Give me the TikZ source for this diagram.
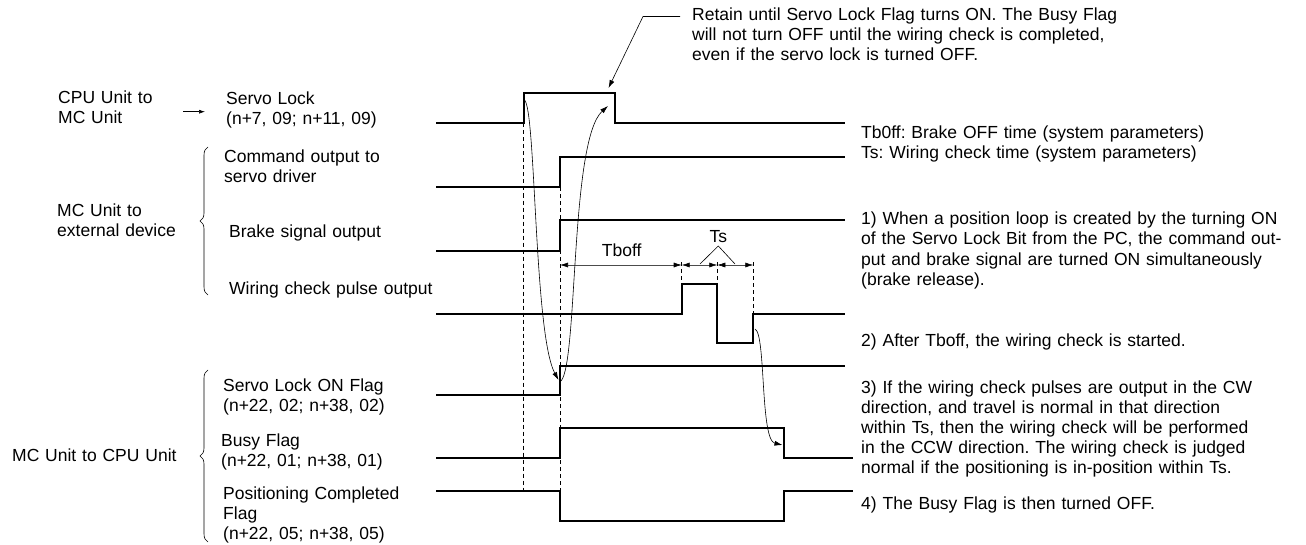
\documentclass[tikz,border=0pt]{standalone}
\usepackage{fontspec}
\setmainfont{Liberation Sans}
\usetikzlibrary{arrows.meta,decorations.pathreplacing}
\frenchspacing
\begin{document}
\begin{tikzpicture}[x=1bp,y=-1bp,
  every node/.style={font=\fontsize{17.5bp}{20bp}\selectfont\frenchspacing, inner sep=0pt},
  lbl/.style={anchor=base west, text width=520bp, align=left},
  wave/.style={line width=2bp, line join=miter},
  dsh/.style={line width=0.7bp, dash pattern=on 4bp off 3bp},
  thinl/.style={line width=0.6bp},
  tip/.style={-{Latex[length=8bp,width=5bp]}},
  dim/.style={line width=0.6bp, black!70, {Latex[length=8bp,width=5bp,black]}-{Latex[length=8bp,width=5bp,black]}},
  brc/.style={decorate, decoration={brace, amplitude=8bp}, line width=0.6bp}
]
\useasboundingbox[fill=white] (0,0) rectangle (1306,545);

% left labels
\node[lbl] (cpu) at (58,104) {CPU Unit to\\MC Unit};
\node[lbl] (sl) at (226,105) {Servo Lock\\(n+7, 09; n+11, 09)};
\coordinate (arA) at (183,111.7);
\coordinate (arB) at (205,111.7);
\draw[thinl, -{Latex[length=6bp,width=4bp]}] (arA) -- (arB);
\node[lbl] (cmd) at (224,163) {Command output to\\servo driver};
\node[lbl] (mcx) at (57,217) {MC Unit to\\external device};
\node[lbl] (brk) at (229,238) {Brake signal output};
\node[lbl] (wir) at (229,294) {Wiring check pulse output};
\node[lbl] (slon) at (223,391) {Servo Lock ON Flag\\(n+22, 02; n+38, 02)};
\node[lbl] (busy) at (221,446) {Busy Flag\\(n+22, 01; n+38, 01)};
\node[lbl] (pos) at (223,499) {Positioning Completed\\Flag\\(n+22, 05; n+38, 05)};
\node[lbl] (mcc) at (12,461) {MC Unit to CPU Unit};

% braces
\coordinate (b1a) at (208,295);
\coordinate (b1b) at (208,147);
\coordinate (b2a) at (208,542);
\coordinate (b2b) at (208,370);
\draw[brc] (b1a) -- (b1b);
\draw[brc] (b2a) -- (b2b);

% top annotation
\node[lbl] (ret) at (692,21) {Retain until Servo Lock Flag turns ON. The Busy Flag\\will not turn OFF until the wiring check is completed,\\even if the servo lock is turned OFF.};
\coordinate (retA) at (680,16.5);
\coordinate (retB) at (643,16.5);
\coordinate (retC) at (608.5,88);
\draw[thinl, tip] (retA) -- (retB) -- (retC);

% right texts
\node[lbl] (tb) at (861,139) {Tb0ff: Brake OFF time (system parameters)\\Ts: Wiring check time (system parameters)};
\node[lbl] (n1) at (861,225) {1) When a position loop is created by the turning ON\\of the Servo Lock Bit from the PC, the command out-\\put and brake signal are turned ON simultaneously\\(brake release).};
\node[lbl] (n2) at (861,346) {2) After Tboff, the wiring check is started.};
\node[lbl] (n3) at (861,393) {3) If the wiring check pulses are output in the CW\\direction, and travel is normal in that direction\\within Ts, then the wiring check will be performed\\in the CCW direction. The wiring check is judged\\normal if the positioning is in-position within Ts.};
\node[lbl] (n4) at (861,509.5) {4) The Busy Flag is then turned OFF.};

% waveforms
\draw[wave] (436,123.5) -- (523.5,123.5) -- (523.5,93.5) -- (615,93.5) -- (615,123.5) -- (845,123.5);
\draw[wave] (436,187.3) -- (560,187.3) -- (560,157.5) -- (845,157.5);
\draw[wave] (436,250.7) -- (560,250.7) -- (560,220.5) -- (845,220.5);
\draw[wave] (436,314) -- (681.7,314) -- (681.7,284) -- (717.3,284) -- (717.3,343.3) -- (753.3,343.3) -- (753.3,314) -- (845,314);
\draw[wave] (436,395) -- (560,395) -- (560,366) -- (845,366);
\draw[wave] (436,458.3) -- (560,458.3) -- (560,428.3) -- (784,428.3) -- (784,458.3) -- (853,458.3);
\draw[wave] (436,490.5) -- (560,490.5) -- (560,520.5) -- (784,520.5) -- (784,490.5) -- (853,490.5);

% dashed guides
\draw[dsh] (523.5,123.5) -- (523.5,490.5);
\draw[dsh] (560,187.3) -- (560,490.5);
\draw[dsh] (681.7,262) -- (681.7,284);
\draw[dsh] (717.3,262) -- (717.3,284);
\draw[dsh] (753.3,262) -- (753.3,314);

% dimensions
\coordinate (d0) at (560,265);
\coordinate (d1) at (681.7,265);
\coordinate (d2) at (717.3,265);
\coordinate (d3) at (753.3,265);
\draw[dim] (d0) -- (d1);
\draw[dim] (d1) -- (d2);
\draw[dim] (d2) -- (d3);
\node (tboff) at (621.7,250) {Tboff};
\node (ts) at (718.3,236.7) {Ts};
\coordinate (tsv) at (718.3,246);
\coordinate (tsl) at (700,264);
\coordinate (tsr) at (735,264);
\draw[thinl] (tsl) -- (tsv) -- (tsr);

% curved arrows
\coordinate (c1s) at (524.5,100);
\coordinate (c1e) at (558.5,380);
\coordinate (c2s) at (561,381);
\coordinate (c2e) at (608,106);
\coordinate (c3s) at (755,329);
\coordinate (c3e) at (782.5,445);
\draw[thinl, tip] (c1s) .. controls (536,110) and (534,335) .. (c1e);
\draw[thinl, tip] (c2s) .. controls (578,362) and (570,140) .. (c2e);
\draw[thinl, tip] (c3s) .. controls (766,334) and (760,440) .. (c3e);
\end{tikzpicture}
\end{document}
